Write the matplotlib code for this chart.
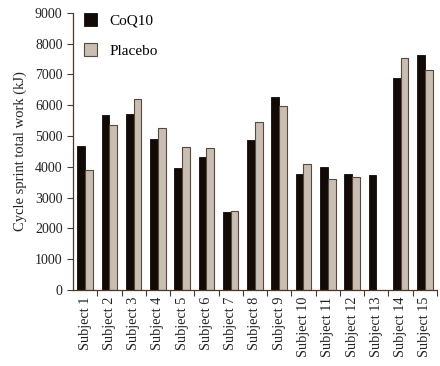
import matplotlib
matplotlib.use("Agg")
import matplotlib.pyplot as plt
import numpy as np

subjects = [f"Subject {i}" for i in range(1, 16)]
coq10 = [4660, 5680, 5700, 4900, 3970, 4330, 2530, 4870, 6250, 3780, 4000, 3760, 3730, 6870, 7640]
placebo = [3900, 5350, 6200, 5250, 4650, 4600, 2570, 5460, 5980, 4100, 3600, 3680, 0, 7540, 7130]

plt.rcParams['font.family'] = ['Liberation Serif', 'DejaVu Serif']
axcol = '#4a3a2c'

fig = plt.figure(figsize=(4.4, 3.66), dpi=100)
ax = fig.add_axes([0.166, 0.208, 0.827, 0.757])

x = np.arange(len(subjects))
w = 0.32
ax.bar(x - w/2, coq10, width=w, color='#120a06', edgecolor='#120a06', linewidth=0.6, label='CoQ10')
pl = np.array(placebo, dtype=float)
ax.bar(x + w/2, np.where(pl > 0, pl, np.nan), width=w, color='#c9beb3', edgecolor='#5a4838', linewidth=0.8, label='Placebo')

ax.set_xlim(-0.5, len(subjects) - 0.5)
ax.set_ylim(0, 9000)
ax.set_yticks(range(0, 9001, 1000))
ax.set_xticks(x)
ax.set_xticklabels(subjects, rotation=90, fontsize=10.3, color='#222222')
ax.set_xticks(np.arange(0.5, len(subjects) - 0.5 + 0.01, 1), minor=True)
ax.tick_params(axis='x', which='major', length=0, pad=5)
ax.tick_params(axis='x', which='minor', length=4, direction='out', color=axcol, width=0.8)
ax.tick_params(axis='y', length=4, direction='out', color=axcol, width=0.8, labelsize=10, labelcolor='#222222')
for s in ['top', 'right']:
    ax.spines[s].set_visible(False)
for s in ['left', 'bottom']:
    ax.spines[s].set_color(axcol)
    ax.spines[s].set_linewidth(0.9)

ax.set_ylabel('Cycle sprint total work (kJ)', fontsize=10.5, color='#222222', labelpad=6)
ax.legend(loc='upper left', frameon=False, fontsize=11, handlelength=0.9, handleheight=0.9,
          labelspacing=1.0, borderaxespad=0.0, bbox_to_anchor=(0.012, 1.02))

fig.savefig('out.png', dpi=100)
